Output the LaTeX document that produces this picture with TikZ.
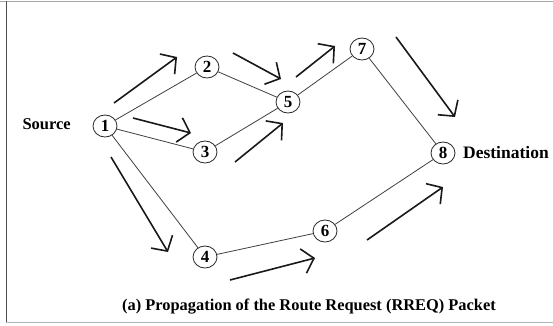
\documentclass[tikz,border=0pt]{standalone}
\usepackage{fontspec}
\setmainfont{Liberation Serif}
\usetikzlibrary{arrows.meta,shapes.geometric}
\begin{document}
\begin{tikzpicture}[x=1pt,y=-1pt,
  nd/.style={draw=black!85,line width=0.8pt,ellipse,inner sep=0pt,minimum width=24pt,minimum height=22pt,font=\fontsize{17}{17}\selectfont\bfseries},
  lbl/.style={font=\fontsize{16.5}{16.5}\selectfont\bfseries,inner sep=0pt},
  edge/.style={draw=black!75,line width=0.8pt},
  flow/.style={draw=black!90,line width=1.6pt,-{Straight Barb[length=11pt,width=25pt,line width=1.6pt]}}]
\fill[white] (0,0) rectangle (553,325);
\useasboundingbox (0,0) rectangle (553,325);
\draw[black!35,line width=1pt] (0,1) -- (553,1);
\draw[black!30,line width=1pt] (6,322) -- (553,322);
\draw[black!70,line width=1pt] (6.5,1) -- (6.5,322);

\node[nd] (n1) at (105,126) {1};
\node[nd] (n2) at (207,67) {2};
\node[nd] (n3) at (205,152) {3};
\node[nd] (n5) at (288,102) {5};
\node[nd] (n7) at (362,49) {7};
\node[nd] (n8) at (443,153) {8};
\node[nd] (n4) at (205,257) {4};
\node[nd] (n6) at (325,231) {6};

\node[lbl,anchor=east] (src) at (71,124) {Source};
\node[lbl,anchor=west,font=\fontsize{17.5}{17.5}\selectfont\bfseries] (dst) at (463,153) {Destination};
\node[lbl,font=\fontsize{16.4}{16.4}\selectfont\bfseries] (cap) at (309,307) {(a) Propagation of the Route Request (RREQ) Packet};

\draw[edge] (n1) -- (n2);
\draw[edge] (n1) -- (n3);
\draw[edge] (n1) -- (n4);
\draw[edge] (n2) -- (n5);
\draw[edge] (n3) -- (n5);
\draw[edge] (n5) -- (n7);
\draw[edge] (n7) -- (n8);
\draw[edge] (n4) -- (n6);
\draw[edge] (n6) -- (n8);

\coordinate (a1s) at (114,103); \coordinate (a1e) at (177,57);
\coordinate (a2s) at (133,118); \coordinate (a2e) at (191,133);
\coordinate (a3s) at (233,53);  \coordinate (a3e) at (281,79);
\coordinate (a4s) at (235,162); \coordinate (a4e) at (283,123);
\coordinate (a5s) at (296,77);  \coordinate (a5e) at (335,46);
\coordinate (a6s) at (396,37);  \coordinate (a6e) at (455,117);
\coordinate (a7s) at (111,157); \coordinate (a7e) at (168,252);
\coordinate (a8s) at (230,280); \coordinate (a8e) at (315,258);
\coordinate (a9s) at (367,240); \coordinate (a9e) at (443,187);
\foreach \i in {1,...,9} {\draw[flow] (a\i s) -- (a\i e);}
\end{tikzpicture}
\end{document}
